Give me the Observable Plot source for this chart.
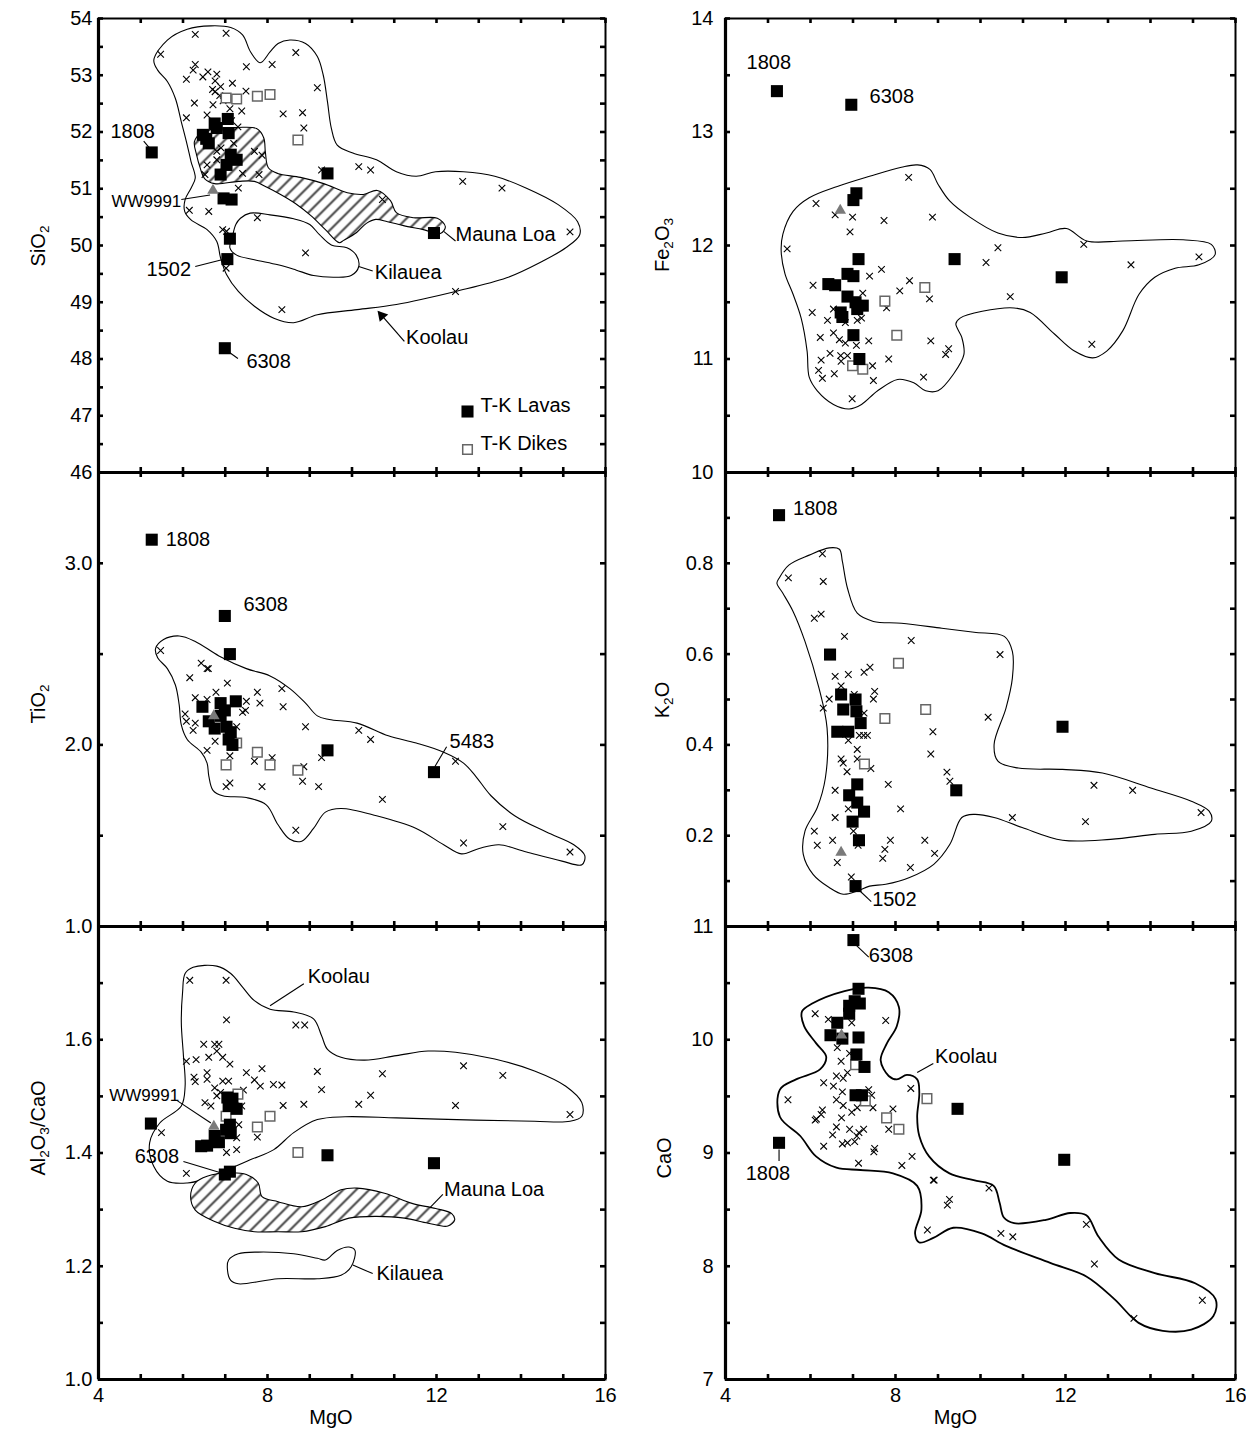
<!DOCTYPE html>
<html><head><meta charset="utf-8">
<script src="https://cdn.jsdelivr.net/npm/d3@7"></script>
<script src="https://cdn.jsdelivr.net/npm/@observablehq/plot@0.6"></script>
<style>
body{margin:0;background:#fff;}
#wrap{position:relative;width:1246px;height:1434px;font-family:"Liberation Sans",Arial,Helvetica,sans-serif;overflow:hidden;}
.ytitle{position:absolute;transform:translate(-50%,-50%) rotate(-90deg);font-size:20px;white-space:nowrap;line-height:1;}
.ytitle sub{font-size:0.68em;vertical-align:-0.3em;}
</style></head><body>
<svg width="0" height="0" style="position:absolute"><defs>
<pattern id="hatch" patternUnits="userSpaceOnUse" width="13" height="13">
<rect width="13" height="13" fill="white"/>
<path d="M-3,3 l6,-6 M0,13 l13,-13 M10,16 l6,-6" stroke="#4a4a4a" stroke-width="2.1"/>
</pattern></defs></svg>
<div id="wrap"></div>
<script>
// ---------- DATA (MgO, value) ----------
const xLabelTicks = [4, 8, 12, 16];

// SiO2 panel
const sio2Crosses = [[5.47,53.37],[6.29,53.72],[7.02,53.74],[8.67,53.40],[7.50,53.15],[8.11,53.19],[6.29,53.19],[6.24,53.09],[6.08,52.93],[6.47,52.97],[6.59,53.06],[6.80,53.02],[6.76,52.90],[7.17,52.86],[6.89,52.80],[6.76,52.71],[6.87,52.64],[7.49,52.72],[9.18,52.78],[6.27,52.51],[6.71,52.48],[7.11,52.41],[7.39,52.37],[8.37,52.32],[8.83,52.34],[6.08,52.25],[6.57,52.30],[8.86,52.07],[7.30,52.09],[7.69,51.66],[7.87,51.59],[6.80,51.66],[6.57,51.42],[6.80,51.51],[7.41,51.27],[7.80,51.25],[6.52,51.25],[7.31,51.01],[9.28,51.33],[10.16,51.39],[10.44,51.33],[12.62,51.13],[13.55,51.01],[10.72,50.81],[6.15,50.62],[6.61,50.60],[7.76,50.49],[6.94,50.28],[7.03,50.25],[15.16,50.24],[8.90,49.87],[7.02,49.60],[8.34,48.87],[12.45,49.19],[6.70,52.75],[6.95,52.55],[7.15,52.20],[6.90,51.72],[7.20,51.80]];
const sio2Lavas = [[5.26,51.64],[7.06,52.23],[6.75,52.15],[6.80,52.07],[6.47,51.95],[7.08,51.98],[6.61,51.80],[6.55,51.88],[7.13,51.60],[7.27,51.51],[7.03,51.42],[6.89,51.25],[6.96,50.83],[7.15,50.81],[9.42,51.27],[11.94,50.22],[7.11,50.12],[7.05,49.76],[6.99,48.19]];
const sio2Dikes = [[7.02,52.60],[7.27,52.58],[7.76,52.63],[8.06,52.66],[8.72,51.86]];
const sio2Tri = [[6.71,50.97]];
const sio2Koolau = [[5.31,53.27],[5.63,53.62],[6.10,53.81],[6.66,53.87],[7.13,53.84],[7.41,53.71],[7.60,53.41],[7.83,53.22],[8.06,53.41],[8.25,53.56],[8.53,53.62],[8.90,53.56],[9.18,53.33],[9.32,53.00],[9.42,52.53],[9.51,52.07],[9.65,51.77],[10.02,51.63],[10.58,51.51],[11.05,51.30],[11.52,51.22],[11.98,51.30],[12.64,51.30],[13.38,51.22],[14.13,51.01],[14.88,50.72],[15.34,50.42],[15.39,50.19],[15.06,49.96],[14.50,49.72],[13.66,49.43],[12.45,49.19],[11.05,48.96],[10.12,48.87],[9.18,48.78],[8.62,48.64],[8.15,48.72],[7.69,48.93],[7.31,49.19],[7.03,49.49],[6.89,49.78],[6.80,50.07],[6.57,50.28],[6.19,50.45],[6.04,50.60],[6.05,50.81],[6.19,51.01],[6.29,51.19],[6.19,51.48],[6.10,51.77],[5.96,52.18],[5.82,52.59],[5.63,52.89],[5.40,53.09]];
const sio2MaunaLoa = [[6.27,51.83],[6.41,51.97],[6.77,52.06],[7.29,52.08],[7.74,52.06],[7.91,51.90],[7.95,51.64],[8.02,51.37],[8.24,51.27],[8.78,51.20],[9.33,51.09],[9.89,50.93],[10.27,50.90],[10.60,50.97],[10.91,50.79],[11.05,50.58],[11.46,50.49],[12.02,50.48],[12.21,50.33],[12.09,50.21],[11.69,50.28],[11.22,50.35],[10.84,50.42],[10.56,50.46],[10.34,50.39],[10.11,50.23],[9.80,50.09],[9.70,50.05],[9.37,50.28],[9.02,50.53],[8.66,50.74],[8.31,50.90],[7.95,51.04],[7.69,51.13],[7.31,51.13],[6.75,51.09],[6.51,51.18],[6.41,51.36],[6.32,51.60]];
const sio2Kilauea = [[7.36,50.48],[7.59,50.57],[8.06,50.54],[8.62,50.47],[9.00,50.37],[9.23,50.19],[9.51,50.01],[9.88,49.96],[10.10,49.83],[10.16,49.63],[9.98,49.47],[9.60,49.44],[9.09,49.47],[8.67,49.57],[8.25,49.66],[7.69,49.75],[7.27,49.83],[7.11,49.96],[7.17,50.16],[7.25,50.37]];
const sio2Labels = [{x:4.81,y:52.01,t:"1808",a:"middle"},{x:5.96,y:50.78,t:"WW9991",a:"end",fs:17},{x:6.19,y:49.57,t:"1502",a:"end"},{x:7.50,y:47.96,t:"6308",a:"start"},{x:12.45,y:50.19,t:"Mauna Loa",a:"start"},{x:10.54,y:49.53,t:"Kilauea",a:"start"},{x:11.28,y:48.37,t:"Koolau",a:"start"}];
const sio2Leaders = [[5.07,51.84,5.24,51.69],[5.96,50.81,6.64,50.89],[6.29,49.63,6.92,49.75],[7.30,48.01,7.11,48.11],[12.17,50.25,12.45,50.08],[10.16,49.63,10.49,49.55]];
const sio2Arrows = [[11.24,48.31,10.63,48.83]];

// Fe2O3 panel
const feCrosses = [[5.45,11.97],[6.13,12.37],[6.58,12.27],[6.99,12.25],[6.93,12.12],[7.73,12.22],[8.31,12.60],[8.87,12.25],[10.13,11.85],[10.41,11.98],[12.43,12.01],[13.54,11.83],[15.14,11.90],[10.70,11.55],[12.62,11.13],[6.06,11.65],[7.39,11.73],[7.67,11.79],[8.33,11.69],[8.10,11.60],[7.23,11.58],[8.80,11.53],[7.79,11.45],[6.04,11.41],[6.54,11.44],[6.40,11.34],[6.82,11.32],[7.10,11.34],[7.20,11.36],[6.23,11.19],[6.54,11.23],[6.68,11.17],[6.82,11.14],[7.08,11.12],[7.37,11.16],[8.83,11.16],[9.25,11.09],[9.18,11.04],[7.84,11.00],[6.25,10.99],[6.46,11.05],[6.71,11.03],[6.87,11.03],[6.72,10.98],[6.19,10.90],[6.28,10.83],[6.56,10.87],[7.46,10.94],[7.48,10.81],[8.66,10.84],[6.98,10.65]];
const feLavas = [[5.21,13.36],[6.96,13.24],[7.08,12.46],[7.01,12.40],[7.13,11.88],[9.39,11.88],[11.91,11.72],[6.87,11.75],[7.01,11.73],[6.42,11.66],[6.58,11.65],[6.87,11.55],[7.06,11.50],[7.23,11.47],[7.10,11.44],[6.71,11.41],[6.75,11.37],[7.01,11.21],[7.15,11.00]];
const feDikes = [[7.75,11.51],[8.69,11.63],[8.03,11.21],[6.99,10.94],[7.23,10.91]];
const feTri = [[6.70,12.31]];
const feKoolau = [[5.31,11.95],[5.35,12.10],[5.59,12.30],[5.97,12.42],[6.63,12.52],[7.39,12.61],[8.14,12.69],[8.52,12.71],[8.81,12.67],[9.00,12.54],[9.28,12.39],[9.75,12.25],[10.41,12.11],[10.98,12.07],[11.55,12.11],[12.02,12.15],[12.50,12.04],[13.35,12.04],[14.77,12.05],[15.43,12.01],[15.52,11.92],[15.14,11.83],[14.58,11.80],[14.10,11.72],[13.73,11.57],[13.35,11.25],[12.97,11.07],[12.64,11.01],[12.21,11.07],[11.74,11.22],[11.17,11.41],[10.79,11.45],[10.04,11.42],[9.52,11.36],[9.42,11.31],[9.56,11.19],[9.61,11.04],[9.37,10.87],[9.00,10.72],[8.71,10.72],[8.43,10.79],[8.05,10.82],[7.58,10.72],[7.20,10.60],[6.91,10.56],[6.54,10.60],[6.16,10.72],[5.97,10.84],[5.92,11.07],[5.78,11.36],[5.59,11.57],[5.40,11.75]];
const feLabels = [{x:5.02,y:13.61,t:"1808",a:"middle"},{x:7.39,y:13.31,t:"6308",a:"start"}];

// TiO2 panel
const tiCrosses = [[5.47,2.52],[6.43,2.45],[6.57,2.42],[6.60,2.42],[6.16,2.37],[7.05,2.34],[6.78,2.29],[7.76,2.29],[8.34,2.31],[6.29,2.26],[6.57,2.25],[7.50,2.24],[7.82,2.23],[8.37,2.21],[6.05,2.17],[6.08,2.13],[6.29,2.12],[6.24,2.08],[7.41,2.18],[7.48,2.19],[7.27,2.10],[6.76,2.02],[6.57,1.97],[7.11,1.94],[7.69,1.91],[8.11,1.93],[8.90,2.10],[9.28,1.93],[8.86,1.88],[8.83,1.80],[9.21,1.77],[10.16,2.08],[10.44,2.03],[12.45,1.91],[10.72,1.70],[7.11,1.79],[7.02,1.77],[7.87,1.77],[8.67,1.53],[13.57,1.55],[12.64,1.46],[15.16,1.41]];
const tiLavas = [[5.26,3.13],[6.99,2.71],[7.11,2.50],[6.46,2.21],[6.89,2.23],[7.25,2.24],[6.99,2.19],[6.61,2.13],[6.89,2.16],[6.75,2.09],[7.03,2.10],[7.08,2.03],[7.17,2.00],[7.13,2.07],[9.42,1.97],[11.94,1.85]];
const tiDikes = [[7.27,2.01],[7.76,1.96],[7.02,1.89],[8.06,1.89],[8.72,1.86]];
const tiTri = [[6.73,2.16]];
const tiKoolau = [[5.35,2.53],[5.54,2.58],[5.91,2.60],[6.29,2.57],[6.85,2.49],[7.50,2.42],[8.06,2.38],[8.53,2.31],[8.90,2.23],[9.18,2.16],[9.46,2.14],[10.12,2.12],[10.86,2.05],[11.52,2.01],[12.17,1.96],[12.64,1.90],[12.92,1.83],[13.29,1.72],[13.85,1.61],[14.60,1.52],[15.25,1.45],[15.51,1.39],[15.44,1.34],[14.97,1.36],[14.13,1.41],[13.48,1.45],[13.01,1.43],[12.59,1.40],[12.17,1.45],[11.52,1.54],[10.58,1.61],[9.74,1.65],[9.37,1.63],[9.09,1.54],[8.81,1.47],[8.53,1.48],[8.25,1.56],[7.97,1.67],[7.50,1.71],[6.94,1.72],[6.71,1.75],[6.61,1.83],[6.57,1.90],[6.43,1.96],[6.10,2.03],[5.96,2.11],[5.91,2.22],[5.82,2.33],[5.63,2.42],[5.40,2.48]];
const tiLabels = [{x:5.59,y:3.13,t:"1808",a:"start"},{x:7.43,y:2.77,t:"6308",a:"start"},{x:12.31,y:2.02,t:"5483",a:"start"}];
const tiLeaders = [[12.24,1.99,11.96,1.88]];

// K2O panel
const kCrosses = [[5.48,0.768],[6.28,0.821],[6.30,0.760],[6.09,0.679],[6.25,0.688],[6.80,0.639],[8.37,0.630],[10.46,0.599],[6.58,0.551],[6.89,0.555],[6.72,0.530],[6.44,0.501],[6.30,0.481],[7.26,0.560],[7.40,0.571],[7.51,0.518],[7.48,0.501],[7.03,0.511],[7.26,0.470],[7.15,0.421],[7.25,0.421],[7.34,0.421],[6.89,0.410],[7.10,0.390],[7.10,0.369],[6.72,0.369],[6.77,0.360],[6.86,0.341],[7.42,0.348],[8.88,0.429],[8.83,0.380],[10.18,0.461],[9.21,0.340],[9.28,0.320],[7.83,0.313],[6.58,0.300],[12.67,0.311],[13.58,0.300],[15.19,0.251],[8.12,0.259],[6.89,0.259],[6.58,0.240],[10.75,0.240],[12.47,0.231],[7.01,0.210],[6.09,0.210],[6.16,0.179],[6.52,0.190],[7.12,0.179],[7.88,0.190],[8.69,0.190],[7.75,0.170],[7.70,0.150],[8.92,0.161],[6.63,0.141],[8.35,0.130],[6.96,0.109]];
const kLavas = [[5.26,0.906],[6.46,0.599],[6.72,0.511],[7.06,0.500],[6.77,0.478],[7.08,0.474],[7.18,0.448],[6.63,0.429],[6.89,0.429],[7.10,0.313],[6.91,0.289],[7.10,0.273],[7.26,0.253],[6.99,0.231],[7.14,0.190],[7.06,0.089],[9.43,0.300],[11.93,0.440]];
const kDikes = [[8.07,0.580],[7.75,0.458],[8.71,0.478],[7.27,0.358]];
const kTri = [[6.72,0.163]];
const kKoolau = [[5.26,0.767],[5.49,0.796],[5.97,0.818],[6.44,0.834],[6.68,0.831],[6.75,0.804],[6.87,0.745],[7.10,0.690],[7.48,0.672],[8.14,0.668],[9.09,0.657],[9.85,0.648],[10.56,0.639],[10.75,0.606],[10.75,0.547],[10.60,0.481],[10.32,0.401],[10.41,0.364],[10.89,0.349],[11.93,0.346],[12.87,0.338],[14.01,0.305],[14.96,0.276],[15.38,0.254],[15.43,0.232],[14.96,0.210],[14.10,0.203],[13.06,0.192],[11.93,0.190],[10.98,0.218],[10.32,0.240],[9.85,0.247],[9.56,0.240],[9.28,0.181],[8.90,0.137],[8.33,0.108],[7.77,0.093],[7.39,0.089],[7.10,0.078],[6.77,0.071],[6.44,0.086],[6.06,0.115],[5.83,0.159],[5.87,0.210],[6.16,0.262],[6.35,0.327],[6.39,0.437],[6.20,0.525],[5.87,0.628],[5.59,0.694],[5.35,0.734],[5.21,0.756]];
const kLabels = [{x:5.59,y:0.921,t:"1808",a:"start"},{x:7.45,y:0.060,t:"1502",a:"start"}];
const kLeaders = [[7.12,0.082,7.43,0.055]];

// Al2O3/CaO panel
const acCrosses = [[6.16,1.705],[7.02,1.705],[7.03,1.635],[8.67,1.626],[8.88,1.626],[6.49,1.592],[6.75,1.592],[6.85,1.592],[6.80,1.580],[6.61,1.569],[6.94,1.569],[7.11,1.557],[6.08,1.562],[6.31,1.565],[7.87,1.549],[7.50,1.542],[6.57,1.542],[6.26,1.534],[6.29,1.526],[6.57,1.530],[7.69,1.529],[7.83,1.518],[8.14,1.521],[8.34,1.520],[6.75,1.515],[6.94,1.527],[7.08,1.527],[7.43,1.511],[9.18,1.544],[9.28,1.512],[10.72,1.540],[10.44,1.502],[10.16,1.486],[12.64,1.554],[13.57,1.537],[12.45,1.484],[15.16,1.468],[6.52,1.489],[6.66,1.483],[6.80,1.501],[6.89,1.507],[7.39,1.483],[8.37,1.484],[8.86,1.486],[7.32,1.450],[7.76,1.428],[7.27,1.427],[7.03,1.401],[7.27,1.406],[5.49,1.436],[6.08,1.364]];
const acLavas = [[5.24,1.452],[6.43,1.412],[6.57,1.413],[6.75,1.430],[6.85,1.419],[7.05,1.498],[7.17,1.496],[7.27,1.478],[7.08,1.483],[7.11,1.450],[7.13,1.435],[7.02,1.441],[6.99,1.362],[7.11,1.367],[9.42,1.396],[11.94,1.382]];
const acDikes = [[7.30,1.504],[7.02,1.465],[7.76,1.446],[8.06,1.465],[8.72,1.401]];
const acTri = [[6.73,1.447]];
const acKoolau = [[6.05,1.717],[6.24,1.728],[6.80,1.730],[7.13,1.717],[7.41,1.693],[7.69,1.669],[8.06,1.654],[8.62,1.649],[9.09,1.637],[9.28,1.607],[9.42,1.583],[9.74,1.569],[10.30,1.564],[11.05,1.572],[11.80,1.580],[12.45,1.578],[13.38,1.566],[14.32,1.545],[15.06,1.518],[15.44,1.489],[15.44,1.465],[15.16,1.456],[14.32,1.456],[12.92,1.458],[11.05,1.462],[9.84,1.464],[9.18,1.459],[8.62,1.436],[8.15,1.406],[7.59,1.388],[7.03,1.370],[6.47,1.353],[6.10,1.347],[5.63,1.350],[5.31,1.376],[5.21,1.418],[5.45,1.453],[5.96,1.483],[6.05,1.518],[6.01,1.572],[5.96,1.631],[5.99,1.684]];
const acMaunaLoa = [[6.29,1.347],[6.57,1.359],[7.13,1.365],[7.50,1.362],[7.78,1.347],[7.87,1.323],[8.25,1.314],[8.81,1.305],[9.28,1.317],[9.74,1.335],[10.12,1.338],[10.77,1.329],[11.42,1.311],[11.98,1.302],[12.36,1.293],[12.43,1.282],[12.27,1.271],[11.80,1.276],[11.24,1.285],[10.58,1.288],[9.93,1.285],[9.37,1.270],[8.81,1.261],[8.25,1.261],[7.69,1.261],[7.22,1.267],[6.75,1.279],[6.29,1.299],[6.18,1.323]];
const acKilauea = [[7.08,1.211],[7.31,1.222],[7.78,1.225],[8.62,1.222],[9.18,1.214],[9.37,1.211],[9.65,1.228],[9.93,1.234],[10.07,1.228],[9.98,1.199],[9.74,1.184],[9.18,1.178],[8.25,1.178],[7.31,1.169],[7.13,1.175],[7.05,1.196]];
const acLabels = [{x:8.95,y:1.711,t:"Koolau",a:"start"},{x:5.91,y:1.501,t:"WW9991",a:"end",fs:17},{x:5.91,y:1.394,t:"6308",a:"end"},{x:12.18,y:1.335,t:"Mauna Loa",a:"start"},{x:10.58,y:1.187,t:"Kilauea",a:"start"}];
const acLeaders = [[8.06,1.660,8.86,1.699],[5.87,1.492,6.66,1.453],[6.01,1.385,6.89,1.365],[11.84,1.303,12.15,1.327],[10.02,1.202,10.49,1.187]];

// CaO panel
const caCrosses = [[6.11,10.23],[6.42,10.18],[6.97,10.15],[7.77,10.17],[6.63,9.93],[6.92,9.88],[6.72,9.81],[6.87,9.71],[6.61,9.68],[6.77,9.66],[6.31,9.62],[6.54,9.59],[6.75,9.54],[5.47,9.47],[6.61,9.47],[7.37,9.56],[7.44,9.51],[8.36,9.57],[6.77,9.42],[6.28,9.38],[6.25,9.34],[6.97,9.36],[7.10,9.40],[7.47,9.40],[7.94,9.39],[6.11,9.29],[6.14,9.30],[6.73,9.31],[6.61,9.23],[6.92,9.21],[7.25,9.21],[7.84,9.21],[7.14,9.18],[6.52,9.16],[7.09,9.15],[6.31,9.06],[6.75,9.08],[6.87,9.09],[7.04,9.10],[7.51,9.04],[7.49,9.01],[7.13,8.91],[8.15,8.89],[8.39,8.97],[8.89,8.76],[8.91,8.76],[10.20,8.69],[9.27,8.59],[9.22,8.54],[8.75,8.32],[10.48,8.29],[10.76,8.26],[12.49,8.37],[12.68,8.02],[15.22,7.70],[13.61,7.54]];
const caLavas = [[7.01,10.88],[7.13,10.45],[7.04,10.34],[7.16,10.32],[6.91,10.30],[6.91,10.23],[6.63,10.15],[6.47,10.04],[6.75,10.01],[7.13,10.02],[7.08,9.87],[7.27,9.76],[7.06,9.51],[7.21,9.51],[5.26,9.09],[9.46,9.39],[11.97,8.94]];
const caDikes = [[7.06,9.78],[7.29,9.46],[7.79,9.31],[8.08,9.21],[8.74,9.48]];
const caTri = [[6.73,10.04]];
const caKoolau = [[5.80,10.25],[6.04,10.32],[6.80,10.43],[7.37,10.46],[7.84,10.42],[8.08,10.29],[8.03,10.12],[7.80,9.97],[7.65,9.82],[7.84,9.68],[8.03,9.65],[8.27,9.69],[8.51,9.65],[8.56,9.53],[8.51,9.32],[8.56,9.15],[8.79,8.97],[9.27,8.82],[9.84,8.76],[10.31,8.71],[10.45,8.56],[10.55,8.43],[10.79,8.38],[11.54,8.41],[12.11,8.47],[12.49,8.45],[12.78,8.26],[13.25,8.06],[14.10,7.94],[15.05,7.85],[15.53,7.71],[15.48,7.56],[14.96,7.44],[14.29,7.43],[13.72,7.50],[13.15,7.71],[12.49,7.91],[11.64,8.03],[10.60,8.18],[10.03,8.29],[9.36,8.34],[8.89,8.25],[8.56,8.21],[8.46,8.29],[8.61,8.50],[8.51,8.71],[7.94,8.82],[7.18,8.85],[6.61,8.87],[6.13,8.97],[5.76,9.15],[5.28,9.32],[5.28,9.56],[5.66,9.65],[6.23,9.74],[6.37,9.85],[6.13,9.97],[5.85,10.12]];
const caLabels = [{x:7.37,y:10.74,t:"6308",a:"start"},{x:8.93,y:9.85,t:"Koolau",a:"start"},{x:5.00,y:8.82,t:"1808",a:"middle"}];
const caLeaders = [[7.06,10.84,7.37,10.73],[8.51,9.71,8.89,9.79],[5.26,9.03,5.26,8.93]];

// ---------- RENDER ----------
const FONT = '"Liberation Sans", Arial, Helvetica, sans-serif';
const LABEL_FS = 20;
const COLS = [{left:0,width:620,ml:98,mr:15,pad:6,mgoDx:-21},{left:620,width:626,ml:105,mr:11,pad:12,mgoDx:-25}];
const ROWS = [{t:18,b:472},{t:472,b:926},{t:926,b:1379}];
const wrap = document.getElementById("wrap");
const X = d => d[0], Y = d => d[1];

function panel(o) {
  const c = COLS[o.col], r = ROWS[o.row];
  const bottom = o.row === 2;
  const mb = bottom ? 56 : 16;
  const fw = c.width - c.ml - c.mr, fh = r.b - r.t;
  const m = [];
  for (const f of o.fields) {
    m.push(Plot.line(f.pts, {x: X, y: Y, curve: "catmull-rom-closed", stroke: "black", strokeWidth: f.sw || 1.1, fill: f.fill || "none"}));
  }
  m.push(Plot.dot(o.crosses, {x: X, y: Y, symbol: "times", r: 3.1, stroke: "black", strokeWidth: 1.1}));
  m.push(Plot.dot(o.dikes, {x: X, y: Y, symbol: "square", r: 5.4, stroke: "#666", strokeWidth: 1.5, fill: "white"}));
  m.push(Plot.dot(o.lavas, {x: X, y: Y, symbol: "square", r: 6.8, fill: "black"}));
  m.push(Plot.dot(o.tri, {x: X, y: Y, symbol: "triangle", r: 4.3, fill: "#7a7a7a"}));
  if (o.leaders) m.push(Plot.link(o.leaders, {x1: d => d[0], y1: d => d[1], x2: d => d[2], y2: d => d[3], stroke: "black", strokeWidth: 1.1}));
  if (o.arrows) {
    m.push(Plot.link(o.arrows, {x1: d => d[0], y1: d => d[1], x2: d => d[2], y2: d => d[3], stroke: "black", strokeWidth: 1.2}));
    // filled arrowhead at the tip, pointing along the arrow
    m.push(Plot.dot(o.arrows, {x: d => d[2], y: d => d[3], symbol: "triangle", r: 4.2, fill: "black", rotate: -41, dx: 3.2, dy: 3.8}));
  }
  for (const a of ["start", "middle", "end"]) {
    const L = (o.labels || []).filter(d => d.a === a);
    if (L.length) m.push(Plot.text(L, {x: "x", y: "y", text: "t", textAnchor: a, fontSize: d => d.fs || LABEL_FS, fill: "black"}));
  }
  if (o.legend) {
    m.push(Plot.dot([0], {frameAnchor: "bottom-right", dx: -138, dy: -61, symbol: "square", r: 6.8, fill: "black"}));
    m.push(Plot.dot([0], {frameAnchor: "bottom-right", dx: -138, dy: -23, symbol: "square", r: 5.4, stroke: "#666", strokeWidth: 1.5, fill: "white"}));
    m.push(Plot.text(["T-K Lavas"], {frameAnchor: "bottom-right", dx: -125, dy: -61, textAnchor: "start", fontSize: LABEL_FS}));
    m.push(Plot.text(["T-K Dikes"], {frameAnchor: "bottom-right", dx: -125, dy: -23, textAnchor: "start", fontSize: LABEL_FS}));
  }
  // ticks (inward, all four sides)
  const xMinor = d3.range(4, 16.001, 1);
  m.push(Plot.ruleY(o.yMinor, {insetRight: fw - 5, strokeWidth: 2.6}));
  m.push(Plot.ruleY(o.yMinor, {insetLeft: fw - 5, strokeWidth: 2.6}));
  m.push(Plot.ruleX(xMinor, {insetTop: fh - 5, strokeWidth: 2.6}));
  m.push(Plot.ruleX(xMinor, {insetBottom: fh - 5, strokeWidth: 2.6}));
  m.push(Plot.frame({stroke: "black", strokeWidth: 2}));
  m.push(Plot.ruleX([4], {strokeWidth: 3.2}));
  m.push(Plot.ruleY([o.yDomain[0]], {strokeWidth: 3.2}));
  m.push(Plot.axisY({ticks: o.yLabels, tickSize: 0, tickPadding: c.pad, tickFormat: o.fmt, label: null, anchor: "left"}));
  if (bottom) {
    m.push(Plot.axisX({ticks: xLabelTicks, tickSize: 0, tickPadding: 8, label: null, anchor: "bottom"}));
    m.push(Plot.text(["MgO"], {frameAnchor: "bottom", dx: c.mgoDx, dy: 44, fontSize: 20}));
  }
  const svg = Plot.plot({
    width: c.width, height: fh + 18 + mb,
    marginLeft: c.ml, marginRight: c.mr, marginTop: 18, marginBottom: mb,
    x: {domain: [4, 16], axis: bottom ? undefined : null},
    y: {domain: o.yDomain},
    style: {background: "transparent", overflow: "visible", fontSize: "20px", fontFamily: FONT, color: "black"},
    marks: m
  });
  svg.style.position = "absolute";
  svg.style.left = c.left + "px";
  svg.style.top = (r.t - 18) + "px";
  svg.style.maxWidth = "none";
  wrap.appendChild(svg);
}

function title(html, cx, cy) {
  const d = document.createElement("div");
  d.className = "ytitle"; d.innerHTML = html;
  d.style.left = cx + "px"; d.style.top = cy + "px";
  wrap.appendChild(d);
}

const f0 = d3.format("d"), f1 = d3.format(".1f");
panel({col:0,row:0,yDomain:[46,54],yMinor:d3.range(46,54.001,0.5),yLabels:[46,47,48,49,50,51,52,53,54],fmt:f0,
  crosses:sio2Crosses,lavas:sio2Lavas,dikes:sio2Dikes,tri:sio2Tri,
  fields:[{pts:sio2Koolau},{pts:sio2MaunaLoa,fill:"url(#hatch)"},{pts:sio2Kilauea,fill:"white"}],
  labels:sio2Labels,leaders:sio2Leaders,arrows:sio2Arrows,legend:true});
panel({col:1,row:0,yDomain:[10,14],yMinor:d3.range(10,14.001,0.5),yLabels:[10,11,12,13,14],fmt:f0,
  crosses:feCrosses,lavas:feLavas,dikes:feDikes,tri:feTri,fields:[{pts:feKoolau}],labels:feLabels});
panel({col:0,row:1,yDomain:[1,3.5],yMinor:d3.range(1,3.501,0.5),yLabels:[1,2,3],fmt:f1,
  crosses:tiCrosses,lavas:tiLavas,dikes:tiDikes,tri:tiTri,fields:[{pts:tiKoolau}],labels:tiLabels,leaders:tiLeaders});
panel({col:1,row:1,yDomain:[0,1],yMinor:d3.range(0,1.001,0.1),yLabels:[0.2,0.4,0.6,0.8],fmt:f1,
  crosses:kCrosses,lavas:kLavas,dikes:kDikes,tri:kTri,fields:[{pts:kKoolau}],labels:kLabels,leaders:kLeaders});
panel({col:0,row:2,yDomain:[1,1.8],yMinor:d3.range(1,1.801,0.1),yLabels:[1.0,1.2,1.4,1.6],fmt:f1,
  crosses:acCrosses,lavas:acLavas,dikes:acDikes,tri:acTri,
  fields:[{pts:acKoolau},{pts:acMaunaLoa,fill:"url(#hatch)"},{pts:acKilauea}],labels:acLabels,leaders:acLeaders});
panel({col:1,row:2,yDomain:[7,11],yMinor:d3.range(7,11.001,0.5),yLabels:[7,8,9,10,11],fmt:f0,
  crosses:caCrosses,lavas:caLavas,dikes:caDikes,tri:caTri,fields:[{pts:caKoolau,sw:1.8}],labels:caLabels,leaders:caLeaders});

title("SiO<sub>2</sub>", 40, 246);
title("TiO<sub>2</sub>", 40, 704);
title("Al<sub>2</sub>O<sub>3</sub>/CaO", 40, 1128);
title("Fe<sub>2</sub>O<sub>3</sub>", 664, 245);
title("K<sub>2</sub>O", 664, 700);
title("CaO", 664, 1158);
</script>
</body></html>
